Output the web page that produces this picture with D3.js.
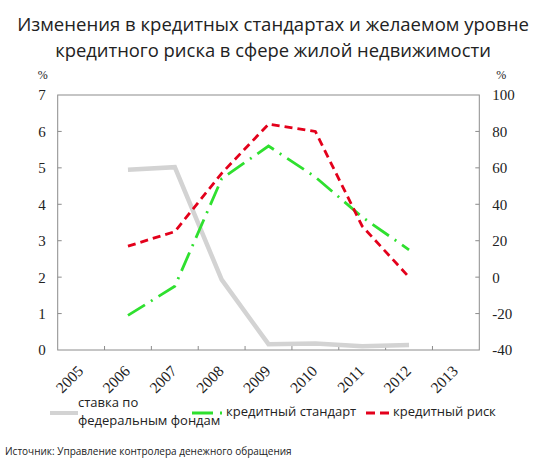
<!DOCTYPE html>
<html>
<head>
<meta charset="utf-8">
<script src="https://cdn.jsdelivr.net/npm/d3@7"></script>
<style>
  body { margin: 0; background: #fff; }
  text { fill: #222; }
</style>
</head>
<body>
<div id="chart"></div>
<script>
// chart values
const axisYears = ["2005", "2006", "2007", "2008", "2009", "2010", "2011", "2012", "2013"];
const dataYears = ["2006", "2007", "2008", "2009", "2010", "2011", "2012"];
const fedRate = [4.95, 5.02, 1.93, 0.16, 0.18, 0.10, 0.14];        // left axis, %
const creditStandard = [-21, -5, 54, 72, 55, 33, 15];               // right axis, %
const creditRisk = [17, 25, 57, 84, 80, 28, 0];                     // right axis, %
const leftTicks = [0, 1, 2, 3, 4, 5, 6, 7];
const rightTicks = [-40, -20, 0, 20, 40, 60, 80, 100];

const titleLines = ["Изменения в кредитных стандартах и желаемом уровне",
                    "кредитного риска в сфере жилой недвижимости"];
const legendLabels = [["ставка по", "федеральным фондам"], ["кредитный стандарт"], ["кредитный риск"]];
const sourceText = "Источник: Управление контролера денежного обращения";

const WIDTH = 550, HEIGHT = 464;
const MARGINS = { left: 57.7, right: 70.7, top: 95, bottom: 114 };
const VIS_WIDTH = WIDTH - MARGINS.left - MARGINS.right;
const VIS_HEIGHT = HEIGHT - MARGINS.top - MARGINS.bottom;

const SANS = "'Open Sans', 'Noto Sans', sans-serif";
const SERIF = "'Liberation Serif', 'DejaVu Serif', serif";
const AXIS_COLOR = "#8c8c8c";

const svg = d3.select("#chart")
    .append("svg")
    .attr("width", WIDTH)
    .attr("height", HEIGHT);

// title, scaled so each line has about the width of the original
const titleWidths = [512, 436];
const titleY = [31, 57];
titleLines.forEach((line, i) => {
    const t = svg.append("text")
        .attr("x", 273)
        .attr("y", titleY[i])
        .attr("text-anchor", "middle")
        .style("font-family", SANS)
        .style("font-size", "17px")
        .text(line);
    const w = t.node().getComputedTextLength();
    t.style("font-size", (17 * titleWidths[i] / w).toFixed(2) + "px");
});

const xScale = d3.scaleBand()
    .domain(axisYears)
    .range([0, VIS_WIDTH]);
const yLeft = d3.scaleLinear().domain([0, 7]).range([VIS_HEIGHT, 0]);
const yRight = d3.scaleLinear().domain([-40, 100]).range([VIS_HEIGHT, 0]);

const plot = svg.append("g")
    .attr("transform", "translate(" + MARGINS.left + "," + MARGINS.top + ")");

// frame: top and axes
plot.append("rect")
    .attr("width", VIS_WIDTH)
    .attr("height", VIS_HEIGHT)
    .attr("fill", "none")
    .attr("stroke", AXIS_COLOR)
    .attr("stroke-width", 1);

// inner ticks
plot.selectAll(".ltick")
    .data(leftTicks.slice(1, -1))
    .enter().append("line")
    .attr("x1", 0).attr("x2", 4)
    .attr("y1", d => yLeft(d)).attr("y2", d => yLeft(d))
    .attr("stroke", AXIS_COLOR);
plot.selectAll(".rtick")
    .data(rightTicks.slice(1, -1))
    .enter().append("line")
    .attr("x1", VIS_WIDTH - 4).attr("x2", VIS_WIDTH)
    .attr("y1", d => yRight(d)).attr("y2", d => yRight(d))
    .attr("stroke", AXIS_COLOR);
plot.selectAll(".btick")
    .data(axisYears.slice(1))
    .enter().append("line")
    .attr("x1", d => xScale(d)).attr("x2", d => xScale(d))
    .attr("y1", VIS_HEIGHT - 4).attr("y2", VIS_HEIGHT)
    .attr("stroke", AXIS_COLOR);

// tick labels
plot.selectAll(".llabel")
    .data(leftTicks)
    .enter().append("text")
    .attr("x", -12)
    .attr("y", d => yLeft(d))
    .attr("dy", "0.36em")
    .attr("text-anchor", "end")
    .style("font-family", SERIF)
    .style("font-size", "15px")
    .text(d => d);
plot.selectAll(".rlabel")
    .data(rightTicks)
    .enter().append("text")
    .attr("x", VIS_WIDTH + 13)
    .attr("y", d => yRight(d))
    .attr("dy", "0.36em")
    .style("font-family", SERIF)
    .style("font-size", "15px")
    .text(d => d);
plot.selectAll(".xlabel")
    .data(axisYears)
    .enter().append("text")
    .attr("text-anchor", "end")
    .attr("transform", d => "translate(" + (xScale(d) + xScale.bandwidth() / 2 + 3) + "," + (VIS_HEIGHT + 22) + ") rotate(-45)")
    .style("font-family", SERIF)
    .style("font-size", "15.5px")
    .text(d => d);

// % units
plot.append("text").attr("x", -15).attr("y", -16).attr("text-anchor", "middle")
    .style("font-family", SERIF).style("font-size", "12px").text("%");
plot.append("text").attr("x", VIS_WIDTH + 22).attr("y", -16).attr("text-anchor", "middle")
    .style("font-family", SERIF).style("font-size", "12px").text("%");

const xPos = d => xScale(d) + xScale.bandwidth() / 2;

const series = [
    { values: fedRate, y: yLeft, color: "#d3d3d3", width: 4.5, dash: null },
    { values: creditStandard, y: yRight, color: "#2fe02f", width: 2.8, dash: "20,7,2,7" },
    { values: creditRisk, y: yRight, color: "#e3001b", width: 2.8, dash: "8,5" }
];

series.forEach(s => {
    const line = d3.line()
        .x((d, i) => xPos(dataYears[i]))
        .y(d => s.y(d));
    plot.append("path")
        .datum(s.values)
        .attr("d", line)
        .attr("fill", "none")
        .attr("stroke", s.color)
        .attr("stroke-width", s.width)
        .attr("stroke-dasharray", s.dash);
});

// legend
const legend = svg.append("g");
const legendItems = [
    { x1: 50, x2: 78, tx: 78, ty: [407, 425], s: series[0] },
    { x1: 192, x2: 222, tx: 226, ty: [416], s: series[1] },
    { x1: 366, x2: 389, tx: 393, ty: [416], s: series[2] }
];
legendItems.forEach((item, i) => {
    legend.append("line")
        .attr("x1", item.x1).attr("x2", item.x2)
        .attr("y1", 413).attr("y2", 413)
        .attr("stroke", item.s.color)
        .attr("stroke-width", item.s.width === 4.5 ? 4 : 3)
        .attr("stroke-dasharray", i === 1 ? "21,7,2,20" : (i === 2 ? "9,5" : null));
    legendLabels[i].forEach((txt, j) => {
        legend.append("text")
            .attr("x", item.tx)
            .attr("y", item.ty[j])
            .style("font-family", SANS)
            .style("font-size", "13px")
            .text(txt);
    });
});

// source
svg.append("text")
    .attr("x", 5)
    .attr("y", 455)
    .style("font-family", SANS)
    .style("font-size", "10px")
    .text(sourceText);
</script>
</body>
</html>
